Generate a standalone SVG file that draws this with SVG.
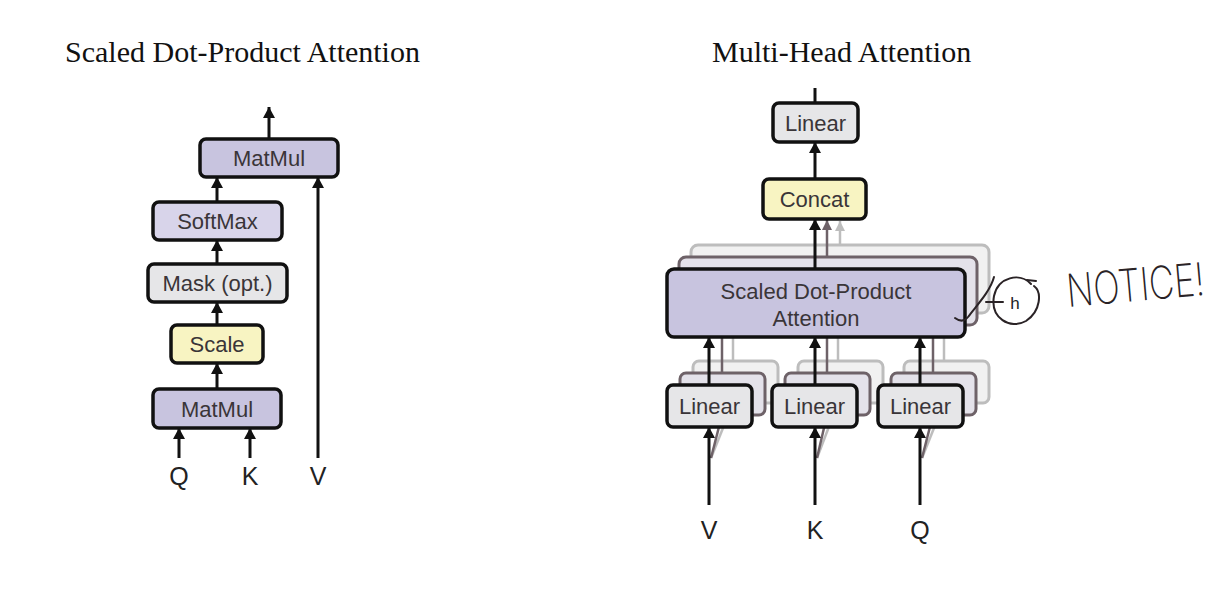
<svg xmlns="http://www.w3.org/2000/svg" width="1212" height="592" viewBox="0 0 1212 592">
<style>
.title{font-family:"Liberation Serif",serif;font-size:30px;fill:#111}
.lbl{font-family:"Liberation Sans",Arial,sans-serif;font-size:22px;fill:#3a3538;text-anchor:middle}
.io{font-family:"Liberation Sans",Arial,sans-serif;font-size:25px;fill:#222;text-anchor:middle}
.box{stroke:#111;stroke-width:3.5}
.purple{fill:#c8c4df}
.lav{fill:#d8d4ea}
.gray{fill:#e6e6e8}
.yellow{fill:#f8f4c2}
.l2{fill:#e4e2ea;stroke:#6e6268;stroke-width:3}
.l3{fill:#f1f1f1;stroke:#bdbdbd;stroke-width:3}
.arr{stroke:#111;stroke-width:3;fill:none;marker-end:url(#ah)}
.arr2{stroke:#6e6268;stroke-width:2.5;fill:none;marker-end:url(#ah2)}
.arr3{stroke:#bdbdbd;stroke-width:2.5;fill:none;marker-end:url(#ah3)}
.ln{stroke:#111;stroke-width:3;fill:none}
.ln2{stroke:#6e6268;stroke-width:2.5;fill:none}
.ln3{stroke:#bdbdbd;stroke-width:2.5;fill:none}
.hand{stroke:#2a2326;stroke-width:2;fill:none;stroke-linecap:round}
</style>
<defs>
<marker id="ah" markerWidth="11" markerHeight="12" refX="11" refY="6" orient="auto" markerUnits="userSpaceOnUse"><path d="M0,0 L11,6 L0,12 z" fill="#111"/></marker>
<marker id="ah2" markerWidth="10" markerHeight="10" refX="10" refY="5" orient="auto" markerUnits="userSpaceOnUse"><path d="M0,0 L10,5 L0,10 z" fill="#6e6268"/></marker>
<marker id="ah3" markerWidth="10" markerHeight="10" refX="10" refY="5" orient="auto" markerUnits="userSpaceOnUse"><path d="M0,0 L10,5 L0,10 z" fill="#bdbdbd"/></marker>
</defs>

<text class="title" x="65" y="62">Scaled Dot-Product Attention</text>
<text class="title" x="712" y="62">Multi-Head Attention</text>

<!-- stacked back layers -->
<g id="stacks">
<rect class="l3" x="691" y="245" width="298" height="68" rx="7"/>
<rect class="l3" x="693" y="361" width="85" height="42" rx="6"/>
<rect class="l3" x="798" y="361" width="85" height="42" rx="6"/>
<rect class="l3" x="904" y="361" width="85" height="42" rx="6"/>
<rect class="l2" x="679" y="257" width="298" height="68" rx="7"/>
<rect class="l2" x="680" y="373" width="85" height="42" rx="6"/>
<rect class="l2" x="785" y="373" width="85" height="42" rx="6"/>
<rect class="l2" x="891" y="373" width="85" height="42" rx="6"/>
</g>

<g id="connectors">
<!-- left -->
<line class="arr" x1="269" y1="139" x2="269" y2="107"/>
<line class="arr" x1="217" y1="202" x2="217" y2="177"/>
<line class="arr" x1="217" y1="264" x2="217" y2="240"/>
<line class="arr" x1="217" y1="325" x2="217" y2="302"/>
<line class="arr" x1="217" y1="389" x2="217" y2="363"/>
<line class="arr" x1="179" y1="458" x2="179" y2="428"/>
<line class="arr" x1="250" y1="458" x2="250" y2="428"/>
<line class="arr" x1="318" y1="458" x2="318" y2="177"/>
<!-- right -->
<line class="ln" x1="815" y1="103" x2="815" y2="88"/>
<line class="arr" x1="815" y1="179" x2="815" y2="142"/>
<line class="arr3" x1="840" y1="245" x2="840" y2="221"/>
<line class="arr2" x1="827" y1="257" x2="827" y2="220"/>
<line class="arr" x1="815" y1="269" x2="815" y2="219"/>
<line class="ln3" x1="733" y1="361" x2="733" y2="313"/>
<line class="ln3" x1="838" y1="361" x2="838" y2="313"/>
<line class="ln3" x1="944" y1="361" x2="944" y2="313"/>
<line class="ln2" x1="722" y1="373" x2="722" y2="325"/>
<line class="ln2" x1="827" y1="373" x2="827" y2="325"/>
<line class="ln2" x1="933" y1="373" x2="933" y2="325"/>
<line class="arr" x1="709" y1="385" x2="709" y2="337"/>
<line class="arr" x1="815" y1="385" x2="815" y2="337"/>
<line class="arr" x1="920" y1="385" x2="920" y2="337"/>
<line class="ln3" x1="711" y1="458" x2="733" y2="403"/>
<line class="ln3" x1="817" y1="458" x2="838" y2="403"/>
<line class="ln3" x1="922" y1="458" x2="944" y2="403"/>
<line class="ln2" x1="711" y1="458" x2="722" y2="415"/>
<line class="ln2" x1="817" y1="458" x2="827" y2="415"/>
<line class="ln2" x1="922" y1="458" x2="933" y2="415"/>
<line class="arr" x1="709" y1="505" x2="709" y2="427"/>
<line class="arr" x1="815" y1="505" x2="815" y2="427"/>
<line class="arr" x1="920" y1="505" x2="920" y2="427"/>
</g>

<!-- left nodes -->
<g id="matmul-top"><rect class="box purple" x="200" y="139" width="138" height="38" rx="6"/><text class="lbl" x="269" y="166">MatMul</text></g>
<g id="softmax"><rect class="box lav" x="153" y="202" width="129" height="38" rx="6"/><text class="lbl" x="217.5" y="229">SoftMax</text></g>
<g id="mask"><rect class="box gray" x="148" y="264" width="139" height="38" rx="6"/><text class="lbl" x="217.5" y="291">Mask (opt.)</text></g>
<g id="scale"><rect class="box yellow" x="171" y="325" width="92" height="38" rx="6"/><text class="lbl" x="217" y="352">Scale</text></g>
<g id="matmul-bottom"><rect class="box purple" x="153" y="389" width="128" height="39" rx="6"/><text class="lbl" x="217" y="417">MatMul</text></g>
<g id="q1"><text class="io" x="179" y="485">Q</text></g>
<g id="k1"><text class="io" x="250" y="485">K</text></g>
<g id="v1"><text class="io" x="318" y="485">V</text></g>

<!-- right nodes -->
<g id="linear-out"><rect class="box gray" x="773" y="103" width="85" height="39" rx="6"/><text class="lbl" x="815.5" y="131">Linear</text></g>
<g id="concat"><rect class="box yellow" x="763" y="179" width="103" height="40" rx="6"/><text class="lbl" x="814.5" y="207">Concat</text></g>
<g id="sdpa"><rect class="box purple" x="667" y="269" width="298" height="68" rx="7"/><text class="lbl" x="816" y="299">Scaled Dot-Product</text><text class="lbl" x="816" y="326">Attention</text></g>
<g id="linear-v"><rect class="box gray" x="667" y="385" width="85" height="42" rx="6"/><text class="lbl" x="709.5" y="414">Linear</text></g>
<g id="linear-k"><rect class="box gray" x="772" y="385" width="85" height="42" rx="6"/><text class="lbl" x="814.5" y="414">Linear</text></g>
<g id="linear-q"><rect class="box gray" x="878" y="385" width="85" height="42" rx="6"/><text class="lbl" x="920.5" y="414">Linear</text></g>
<g id="v2"><text class="io" x="709" y="539">V</text></g>
<g id="k2"><text class="io" x="815" y="539">K</text></g>
<g id="q2"><text class="io" x="920" y="539">Q</text></g>

<!-- handwritten annotation -->
<g id="annotation">
<path class="hand" d="M994,277 C990,292 976,306 968,317 C964,322 959,321 955,318"/>
<path class="hand" d="M986,302 L1003,302" stroke-width="1.5"/>
<path class="hand" d="M1031,284 C1020,272 998,277 994,296 C990,318 1010,330 1026,321 C1041,311 1042,292 1034,286" stroke-width="1.8"/>
<path class="hand" d="M1027,280 L1036,281" stroke-width="1.8"/>
<text x="1015" y="309" font-family="Liberation Sans,Arial,sans-serif" font-size="17" fill="#222" text-anchor="middle">h</text>
<text x="0" y="0" font-family="Inter,'DejaVu Sans',sans-serif" font-weight="200" font-size="35" fill="#2a2326" transform="translate(1068 307) rotate(-5) scale(1 1.3)">NOTICE!</text>
</g>
</svg>
